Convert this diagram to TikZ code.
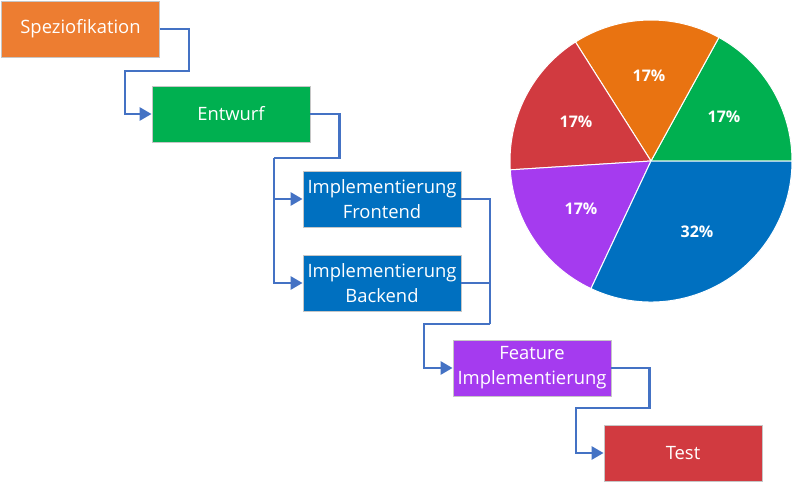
\documentclass[tikz,border=0pt]{standalone}
\usepackage{fontspec}
\setmainfont{Open Sans}
\usetikzlibrary{arrows.meta}

\definecolor{spezorange}{HTML}{ED7D31}
\definecolor{entwgreen}{HTML}{00B050}
\definecolor{implblue}{HTML}{0070C0}
\definecolor{featpurple}{HTML}{A53BEF}
\definecolor{testred}{HTML}{D13A40}
\definecolor{pieorange}{HTML}{E97311}
\definecolor{connblue}{HTML}{4472C4}

\tikzset{
  phase/.style={draw=gray!45, line width=0.8pt, text=white, align=center,
    minimum width=158pt, minimum height=56pt, inner sep=0pt,
    font=\fontsize{18.4}{25}\selectfont},
  conn/.style={draw=connblue, line width=2.7pt, -{Triangle[length=12pt,width=13pt]}},
  connline/.style={draw=connblue, line width=2.7pt},
  slice/.style={draw=white, line width=1pt},
  pct/.style={text=white, font=\bfseries\fontsize{16}{20}\selectfont}
}

\begin{document}
\begin{tikzpicture}[x=1pt,y=1pt]

\useasboundingbox (0,0) rectangle (795,483);

\node[phase, fill=spezorange] (spez) at (80.5,454) {Speziofikation};
\node[phase, fill=entwgreen] (entw) at (231,369) {Entwurf};
\node[phase, fill=implblue] (front) at (382,284) {Implementierung\\Frontend};
\node[phase, fill=implblue] (back) at (382,200) {Implementierung\\Backend};
\node[phase, fill=featpurple] (feat) at (532,115) {Feature\\Implementierung};
\node[phase, fill=testred] (test) at (683,30) {Test};

\coordinate (split) at (274,325);
\coordinate (join) at (490,159);

\draw[conn] (spez.east) -- ++(29,0) |- (125,412) |- (entw.west);
\draw[connline] (entw.east) -- ++(29,0) |- (split);
\draw[conn] (split) |- (front.west);
\draw[conn] (split) |- (back.west);
\draw[connline] (front.east) -| (join);
\draw[connline] (back.east) -| (join);
\draw[conn] (join) -- (424,159) |- (feat.west);
\draw[conn] (feat.east) -- ++(38,0) |- (576,75) |- (test.west);

% pie chart
\coordinate (pie) at (651,322);
\draw[slice, fill=entwgreen] (pie) -- ++(0:141) arc (0:61.2:141) -- cycle;
\draw[slice, fill=pieorange] (pie) -- ++(61.2:141) arc (61.2:122.4:141) -- cycle;
\draw[slice, fill=testred] (pie) -- ++(122.4:141) arc (122.4:183.6:141) -- cycle;
\draw[slice, fill=featpurple] (pie) -- ++(183.6:141) arc (183.6:244.8:141) -- cycle;
\draw[slice, fill=implblue] (pie) -- ++(244.8:141) arc (244.8:360:141) -- cycle;

\node[pct] (pgreen) at (724,366) {17\%};
\node[pct] (porange) at (649,407) {17\%};
\node[pct] (pred) at (576,361) {17\%};
\node[pct] (ppurple) at (581,274) {17\%};
\node[pct] (pblue) at (697,251) {32\%};

\end{tikzpicture}
\end{document}
